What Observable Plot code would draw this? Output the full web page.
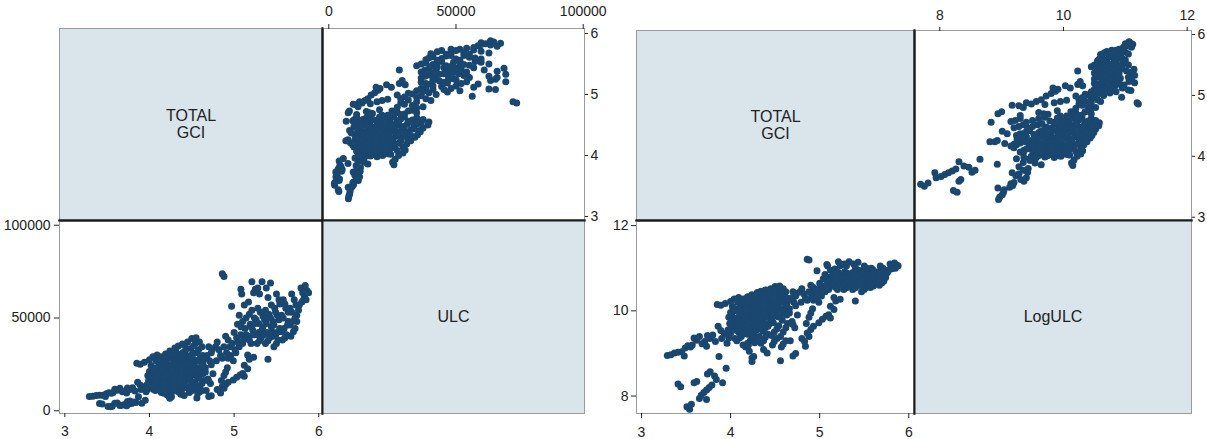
<!DOCTYPE html>
<html><head><meta charset="utf-8">
<script src="https://cdn.jsdelivr.net/npm/d3@7"></script>
<script src="https://cdn.jsdelivr.net/npm/@observablehq/plot@0.6"></script>
<style>
html,body{margin:0;padding:0;background:#fff;}
#root{position:relative;width:1207px;height:439px;overflow:hidden;}
</style></head><body><div id="root"></div>
<script>
// Variable labels (diagonal boxes)
const leftNames = ["TOTAL\nGCI", "ULC"];
const rightNames = ["TOTAL\nGCI", "LogULC"];
// Tick labels
const gciTicks = [3, 4, 5, 6];
const ulcTicks = [0, 50000, 100000];
const logUlcTicks = [8, 10, 12];
// Observations: [TOTAL GCI, LogULC]  (ULC = exp(LogULC))
const obs = [
 [3.29,8.95],[3.33,8.97],[3.37,9.01],[3.41,9.03],[3.45,9.04],[3.48,8.94],[3.49,9.13],[3.52,9.18],[3.55,9.15],[3.57,9.20],
 [3.59,9.36],[3.62,9.31],[3.65,9.40],[3.68,9.23],[3.71,9.28],[3.73,9.17],[3.74,9.42],[3.77,9.35],[3.80,9.43],[3.83,9.28],
 [3.86,9.64],[3.87,8.93],[3.89,9.54],[3.90,9.35],[3.93,9.46],[3.96,9.24],[3.98,9.36],[4.00,9.48],
 [3.41,8.28],[3.44,8.22],[3.51,7.75],[3.54,7.69],[3.56,7.81],[3.59,8.31],[3.62,8.34],[3.65,7.94],[3.67,8.02],[3.70,8.08],
 [3.73,8.14],[3.76,8.20],[3.79,8.26],[3.73,7.92],[3.74,8.52],[3.77,8.57],[3.82,8.47],[3.84,8.39],[3.91,8.31],[3.95,8.65],
 [3.85,10.15],[3.89,10.13],[3.94,10.17],[4.00,10.22],[4.04,10.28],[4.09,10.31],[4.14,10.28],[4.19,10.33],[4.24,10.38],[4.30,10.43],
 [4.34,10.46],[4.39,10.49],[4.45,10.52],[4.50,10.57],[4.55,10.58],
 [3.97,9.55],[4.02,9.62],[3.99,9.70],[4.03,9.78],[3.98,9.85],[4.01,9.92],[4.04,10.00],[3.96,9.45],[4.05,9.35],[4.02,10.10],
 [4.00,9.58],[4.04,9.66],[4.01,9.74],[4.05,9.82],[4.00,9.96],[4.03,10.06],
 [4.07,9.30],[4.12,9.40],[4.09,9.50],[4.14,9.58],[4.06,9.65],[4.11,9.72],[4.08,9.80],[4.13,9.88],[4.10,9.95],[4.06,10.02],
 [4.12,10.10],[4.08,10.20],[4.14,9.20],
 [4.10,9.36],[4.13,9.45],[4.07,9.54],[4.12,9.62],[4.09,9.68],[4.14,9.76],[4.07,9.84],[4.11,9.92],[4.14,10.00],[4.09,10.06],[4.13,10.16],
 [4.17,9.15],[4.22,9.30],[4.19,9.45],[4.24,9.55],[4.16,9.62],[4.21,9.70],[4.18,9.78],[4.23,9.85],[4.20,9.92],[4.16,10.00],
 [4.22,10.08],[4.19,10.15],[4.24,10.25],[4.21,9.05],[4.20,9.20],
 [4.19,9.24],[4.24,9.38],[4.17,9.50],[4.22,9.60],[4.19,9.66],[4.24,9.74],[4.17,9.82],[4.22,9.96],[4.18,10.04],[4.23,10.12],[4.20,10.22],
 [4.27,9.25],[4.32,9.40],[4.29,9.55],[4.34,9.65],[4.26,9.72],[4.31,9.80],[4.28,9.88],[4.33,9.95],[4.30,10.02],[4.26,10.10],
 [4.32,10.18],[4.29,10.25],[4.34,10.32],[4.31,10.40],[4.28,9.32],[4.34,9.24],
 [4.29,9.35],[4.26,9.48],[4.32,9.60],[4.28,9.68],[4.33,9.76],[4.27,9.84],[4.32,9.90],[4.27,9.98],[4.33,10.06],[4.28,10.14],[4.33,10.24],[4.27,10.34],
 [4.37,9.30],[4.42,9.45],[4.39,9.60],[4.44,9.70],[4.36,9.80],[4.41,9.90],[4.38,9.98],[4.43,10.05],[4.40,10.12],[4.36,10.20],
 [4.42,10.28],[4.39,10.35],[4.44,10.42],[4.41,10.48],
 [4.39,9.38],[4.36,9.52],[4.42,9.64],[4.37,9.74],[4.43,9.84],[4.38,9.92],[4.43,10.00],[4.37,10.08],[4.43,10.16],[4.38,10.24],[4.42,10.38],
 [4.47,9.20],[4.52,9.35],[4.49,9.50],[4.54,9.65],[4.46,9.80],[4.51,9.92],[4.48,10.02],[4.53,10.10],[4.50,10.18],[4.46,10.26],
 [4.52,10.34],[4.49,10.42],[4.54,10.50],
 [4.49,9.28],[4.46,9.42],[4.52,9.58],[4.48,9.72],[4.53,9.86],[4.47,9.96],[4.52,10.06],[4.47,10.14],[4.53,10.22],[4.48,10.30],[4.52,10.46],
 [4.57,9.15],[4.62,9.30],[4.59,9.50],[4.64,9.70],[4.56,9.85],[4.61,9.95],[4.58,10.05],[4.63,10.15],[4.60,10.25],[4.56,10.35],
 [4.62,10.45],[4.59,10.52],
 [4.59,9.22],[4.56,9.40],[4.62,9.60],[4.58,9.78],[4.63,9.90],[4.57,10.00],[4.62,10.10],[4.57,10.20],[4.63,10.30],[4.58,10.40],
 [4.67,9.30],[4.72,9.60],[4.69,9.75],[4.75,9.90],[4.66,10.05],[4.71,10.20],[4.68,10.30],[4.74,10.40],[4.70,10.45],
 [4.70,9.68],[4.66,9.95],[4.73,10.12],[4.67,10.25],[4.73,10.35],
 [4.78,10.45],[4.80,10.52],[4.82,10.40],[4.84,10.30],[4.79,10.20],[4.95,10.45],[4.93,10.25],[4.99,10.20],
 [4.24,8.89],[4.26,8.93],[4.24,8.81],[4.37,9.09],[4.41,9.01],[4.56,8.83],[4.70,8.94],[4.73,9.00],[4.84,9.17],[4.83,9.28],
 [4.88,9.40],[4.86,9.48],[4.90,9.56],[4.93,9.64],[4.99,9.72],[5.03,9.80],[5.07,9.87],[5.10,9.91],[5.12,9.83],[4.88,9.85],
 [4.90,9.95],[4.92,10.05],[4.80,9.35],[4.85,9.70],
 [4.86,10.25],[4.91,10.35],[4.88,10.45],[4.93,10.55],[4.90,10.60],[4.86,11.21],[4.88,11.19],
 [4.96,10.30],[5.01,10.40],[4.98,10.50],[5.03,10.58],[5.00,10.65],[5.04,10.75],[4.97,10.94],
 [5.02,10.35],[5.05,10.52],
 [5.06,10.45],[5.11,10.55],[5.08,10.62],[5.13,10.70],[5.10,10.78],[5.06,10.85],[5.12,10.95],[5.09,11.05],[5.08,11.09],
 [5.10,10.50],[5.14,10.62],[5.08,10.72],[5.14,10.82],
 [5.16,10.03],[5.18,10.23],[5.16,10.31],[5.23,10.27],[5.12,10.11],[5.20,10.50],[5.17,10.60],[5.22,10.68],[5.19,10.75],[5.24,10.82],
 [5.21,10.90],[5.17,10.98],[5.23,11.06],[5.21,11.15],[5.25,11.09],
 [5.18,10.55],[5.23,10.62],[5.20,10.72],[5.25,10.76],[5.18,10.86],
 [5.27,10.50],[5.32,10.58],[5.29,10.65],[5.34,10.72],[5.26,10.80],[5.31,10.88],[5.28,11.10],[5.33,11.15],[5.30,11.05],
 [5.30,10.54],[5.27,10.62],[5.33,10.68],[5.29,10.76],[5.34,10.84],[5.28,10.92],
 [5.40,10.23],[5.37,10.50],[5.42,10.58],[5.39,10.65],[5.44,10.72],[5.36,10.80],[5.41,10.86],[5.38,11.10],[5.43,11.14],[5.40,11.02],[5.44,10.95],
 [5.40,10.54],[5.35,10.62],[5.45,10.66],[5.38,10.76],[5.43,10.82],[5.37,10.90],
 [5.47,10.45],[5.52,10.55],[5.49,10.62],[5.54,10.70],[5.46,10.78],[5.51,10.85],[5.48,10.92],[5.53,11.00],[5.50,11.05],
 [5.50,10.50],[5.46,10.60],[5.52,10.66],[5.47,10.74],[5.53,10.80],[5.49,10.88],[5.54,10.96],
 [5.57,10.55],[5.62,10.62],[5.59,10.70],[5.64,10.78],[5.56,10.85],[5.61,10.92],[5.58,11.00],
 [5.60,10.58],[5.56,10.66],[5.63,10.74],[5.58,10.82],[5.64,10.88],[5.60,10.96],
 [5.67,10.60],[5.72,10.70],[5.69,10.78],[5.74,10.85],[5.66,10.92],[5.71,11.00],[5.68,11.05],[5.74,10.78],
 [5.70,10.66],[5.66,10.74],[5.72,10.82],[5.68,10.88],[5.73,10.95],
 [5.76,10.90],[5.80,10.98],[5.83,11.03],[5.86,11.08],[5.79,11.10],[5.84,11.12],[5.82,11.00],[5.88,11.06],
 [5.77,10.95],[5.81,11.06],[5.85,11.00]
];

const rows = obs.map(([g, l]) => ({gci: g, logUlc: l, ulc: Math.exp(l)}));

const NAVY = "#1a476f", BOX = "#d9e4eb", EDGE = "#9a9a9a", DIV = "#1c1c1c", INK = "#222";
const baseStyle = {fontFamily: '"Liberation Sans", Arial, sans-serif', fontSize: "14px", color: INK, background: "none", overflow: "visible"};
const root = document.getElementById("root");
const fmt = d => String(d);

function mount(plot, left, top) {
  plot.style.position = "absolute";
  plot.style.left = left + "px";
  plot.style.top = top + "px";
  root.append(plot);
}

function scatterPanel(o) {
  const mL = 70, mR = 40, mT = 30, mB = 30;
  const marks = [
    Plot.frame({stroke: EDGE, strokeWidth: 1}),
    Plot.dot(rows, {x: o.x, y: o.y, r: 3.5, fill: NAVY, stroke: "none"}),
    Plot.axisX(o.xTicks, {anchor: o.xAnchor, tickSize: o.xt[0], tickPadding: o.xt[1], tickFormat: fmt, label: null}),
    Plot.axisY(o.yTicks, {anchor: o.yAnchor, tickSize: o.yt[0], tickPadding: o.yt[1], tickFormat: fmt, label: null}),
    ...o.dividers.map(a => Plot.frame({anchor: a, stroke: DIV, strokeWidth: 2}))
  ];
  const p = Plot.plot({
    width: o.w + mL + mR, height: o.h + mT + mB,
    marginLeft: mL, marginRight: mR, marginTop: mT, marginBottom: mB,
    style: baseStyle,
    x: {domain: o.xDomain}, y: {domain: o.yDomain},
    marks
  });
  mount(p, o.left - mL, o.top - mT);
}

function labelPanel(o) {
  const m = 10;
  const p = Plot.plot({
    width: o.w + 2 * m, height: o.h + 2 * m, margin: m,
    style: {...baseStyle, fontSize: "16px"},
    x: {domain: [0, 1], axis: null}, y: {domain: [0, 1], axis: null},
    marks: [
      Plot.frame({fill: BOX, stroke: EDGE, strokeWidth: 1}),
      Plot.text([o.text], {text: d => d, frameAnchor: "middle", fontSize: 16, lineHeight: 1.05, fill: INK}),
      ...o.dividers.map(a => Plot.frame({anchor: a, stroke: DIV, strokeWidth: 2}))
    ]
  });
  mount(p, o.left - m, o.top - m);
}

// ---- Left matrix: TOTAL GCI vs ULC ----
labelPanel({left: 59, top: 28, w: 263, h: 192, text: leftNames[0], dividers: ["right", "bottom"]});
scatterPanel({left: 322, top: 28, w: 262, h: 192, x: "ulc", y: "gci",
  xDomain: [-2476, 100511], yDomain: [2.934, 6.082], xTicks: ulcTicks, yTicks: gciTicks,
  xAnchor: "top", yAnchor: "right", xt: [5, 8], yt: [3, 3], dividers: ["left", "bottom"]});
scatterPanel({left: 59, top: 220, w: 263, h: 193, x: "gci", y: "ulc",
  xDomain: [2.937, 6.044], yDomain: [-1465, 102550], xTicks: gciTicks, yTicks: ulcTicks,
  xAnchor: "bottom", yAnchor: "left", xt: [4, 9], yt: [5, 4], dividers: ["top", "right"]});
labelPanel({left: 322, top: 220, w: 262, h: 193, text: leftNames[1], dividers: ["left", "top"]});

// ---- Right matrix: TOTAL GCI vs LogULC ----
labelPanel({left: 636, top: 30, w: 278, h: 190, text: rightNames[0], dividers: ["right", "bottom"]});
scatterPanel({left: 914, top: 30, w: 277, h: 190, x: "logUlc", y: "gci",
  xDomain: [7.591, 12.07], yDomain: [2.946, 6.066], xTicks: logUlcTicks, yTicks: gciTicks,
  xAnchor: "top", yAnchor: "right", xt: [4, 7], yt: [3, 3], dividers: ["left", "bottom"]});
scatterPanel({left: 636, top: 220, w: 278, h: 193, x: "gci", y: "logUlc",
  xDomain: [2.944, 6.064], yDomain: [7.59, 12.12], xTicks: gciTicks, yTicks: logUlcTicks,
  xAnchor: "bottom", yAnchor: "left", xt: [5, 9], yt: [5, 3], dividers: ["top", "right"]});
labelPanel({left: 914, top: 220, w: 277, h: 193, text: rightNames[1], dividers: ["left", "top"]});
</script>
</body></html>
